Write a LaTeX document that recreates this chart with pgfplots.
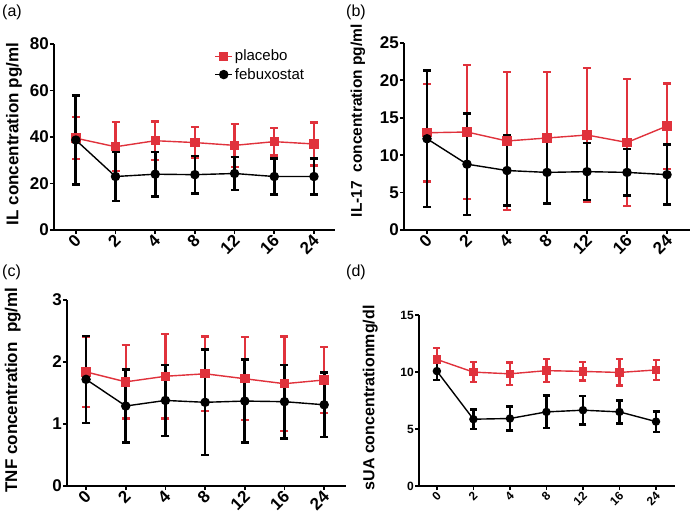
\documentclass[border=0pt]{standalone}
\usepackage{pgfplots}
\usepackage{pgfplotstable}
\pgfplotsset{compat=1.18}
\usepackage{fontspec}
\setmainfont{Liberation Sans}
\definecolor{pred}{HTML}{E0323C}

% x  placebo  err  febuxostat  err
\pgfplotstableread{
x p pe f fe
0 39.5 9.0 38.7 19.2
1 35.8 10.5 23.0 10.6
2 38.4 8.3 24.0 9.5
3 37.6 6.6 23.8 8.0
4 36.4 9.3 24.3 7.0
5 38.0 6.0 23.0 7.8
6 37.0 9.2 23.0 7.8
}\tA
\pgfplotstableread{
x p pe f fe
0 13.0 6.5 12.2 9.1
1 13.1 9.0 8.8 6.8
2 11.9 9.2 7.95 4.65
3 12.3 8.8 7.7 4.15
4 12.7 9.0 7.8 3.8
5 11.7 8.5 7.7 3.1
6 13.9 5.7 7.4 4.0
}\tB
\pgfplotstableread{
x p pe f fe
0 1.84 0.57 1.72 0.70
1 1.68 0.59 1.29 0.59
2 1.77 0.68 1.38 0.57
3 1.81 0.60 1.35 0.85
4 1.73 0.67 1.37 0.67
5 1.65 0.76 1.36 0.59
6 1.71 0.53 1.31 0.52
}\tC
\pgfplotstableread{
x p pe f fe
0 11.1 1.0 10.08 0.77
1 9.99 0.87 5.86 0.86
2 9.84 1.0 5.92 1.04
3 10.12 1.0 6.5 1.42
4 10.05 0.8 6.65 1.26
5 9.96 1.15 6.5 1.0
6 10.18 0.9 5.65 0.9
}\tD

\pgfplotsset{
  panel/.style={
    scale only axis,
    axis x line*=bottom, axis y line*=left,
    axis line style={line width=1.8bp},
    tick style={line width=1.8bp, black},
    tick align=outside, major tick length=4bp,
    xtick={0,...,6}, xticklabels={0,2,4,8,12,16,24},
    /pgf/number format/assume math mode=true,
    tick label style={font=\fontsize{17bp}{17bp}\selectfont\bfseries, inner sep=1bp},
    xticklabel style={rotate=45, anchor=east, yshift=-4bp},
    ylabel style={font=\fontsize{17bp}{17bp}\selectfont\bfseries, anchor=center},
    ymin=0, clip=false,
  },
  pser/.style={pred, line width=1.4bp, mark=square*, mark size=#1,
    mark options={solid, fill=pred, draw=pred},
    error bars/.cd, y dir=both, y explicit,
    error bar style={line width=2.3bp, pred},
    error mark options={rotate=90, mark size=#1, line width=2.3bp, pred}},
  pser/.default=4bp,
  fser/.style={black, line width=1.4bp, mark=*, mark size=#1,
    mark options={solid, fill=black},
    error bars/.cd, y dir=both, y explicit,
    error bar style={line width=2.7bp, black},
    error mark options={rotate=90, mark size=#1, line width=2.5bp, black}},
  fser/.default=4bp,
}

\begin{document}
\begin{tikzpicture}[x=1bp, y=1bp]
\useasboundingbox (0,0) rectangle (691bp,521bp);

% (a)
\begin{axis}[panel, at={(54bp,291bp)}, anchor=south west,
  width=281bp, height=186bp, xmin=-0.55, xmax=6.53,
  ymax=80, ytick={0,20,40,60,80},
  ylabel={IL concentration pg/ml},
  ylabel style={at={(axis description cs:-0.142,0.516)}},
  legend style={draw=none, fill=none, at={(axis description cs:0.56,0.99)},
    anchor=north west, font=\fontsize{15bp}{15bp}\selectfont, row sep=2bp},
  legend cell align=left]
\addplot[pser] table[x=x, y=p, y error=pe]{\tA};
\addlegendentry{placebo}
\addplot[fser] table[x=x, y=f, y error=fe]{\tA};
\addlegendentry{febuxostat}
\end{axis}

% (b)
\begin{axis}[panel, at={(404bp,291bp)}, anchor=south west,
  width=286bp, height=187bp, xmin=-0.575, xmax=6.575,
  ymax=25, ytick={0,5,10,15,20,25},
  ylabel={IL-17\ \ concentration pg/ml},
  ylabel style={font=\fontsize{15.5bp}{15.5bp}\selectfont\bfseries,
    at={(axis description cs:-0.161,0.585)}}]
\addplot[pser] table[x=x, y=p, y error=pe]{\tB};
\addplot[fser] table[x=x, y=f, y error=fe]{\tB};
\end{axis}

% (c)
\begin{axis}[panel, at={(67bp,35bp)}, anchor=south west,
  width=279bp, height=186bp, xmin=-0.48, xmax=6.55,
  ymax=3, ytick={0,1,2,3},
  ylabel={TNF concentration\ \ pg/ml},
  ylabel style={at={(axis description cs:-0.194,0.516)}}]
\addplot[pser] table[x=x, y=p, y error=pe]{\tC};
\addplot[fser] table[x=x, y=f, y error=fe]{\tC};
\end{axis}

% (d)
\begin{axis}[panel, at={(419bp,35bp)}, anchor=south west,
  width=256bp, height=171bp, xmin=-0.49, xmax=6.52,
  ymax=15, ytick={0,5,10,15},
  axis line style={line width=1.3bp}, tick style={line width=1.3bp},
  tick label style={font=\fontsize{12bp}{12bp}\selectfont\bfseries},
  ylabel={sUA concentrationmg/dl},
  ylabel style={font=\fontsize{16bp}{16bp}\selectfont\bfseries,
    at={(axis description cs:-0.19,0.515)}}]
\addplot[pser=3.5bp] table[x=x, y=p, y error=pe]{\tD};
\addplot[fser=3.5bp] table[x=x, y=f, y error=fe]{\tD};
\end{axis}

\node[anchor=north west, inner sep=0, font=\fontsize{16bp}{16bp}\selectfont] at (2bp,516bp) {(a)};
\node[anchor=north west, inner sep=0, font=\fontsize{16bp}{16bp}\selectfont] at (346bp,516bp) {(b)};
\node[anchor=north west, inner sep=0, font=\fontsize{16bp}{16bp}\selectfont] at (2bp,256bp) {(c)};
\node[anchor=north west, inner sep=0, font=\fontsize{16bp}{16bp}\selectfont] at (346bp,256bp) {(d)};
\end{tikzpicture}
\end{document}
